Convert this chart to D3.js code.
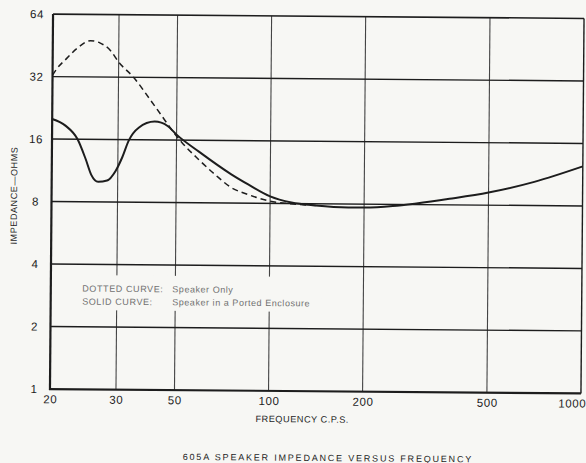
<!DOCTYPE html>
<html>
<head>
<meta charset="utf-8">
<script src="https://cdn.jsdelivr.net/npm/d3@7"></script>
<style>
  html, body { margin: 0; padding: 0; background: #f7f7f4; }
  svg { display: block; }
</style>
</head>
<body>
<svg id="chart" width="586" height="463"></svg>
<script>
// ---- data ----
const xTicks = [20, 30, 50, 100, 200, 500, 1000];
const xTickLabels = ["20", "30", "50", "100", "200", "500", "1000"];
const yTicks = [1, 2, 4, 8, 16, 32, 64];
const yTickLabels = ["1", "2", "4", "8", "16", "32", "64"];

const solidFreq = [20, 21.7, 23.4, 24.6, 25.5, 26.6, 28.1, 29.6, 31.2, 32.9, 35.9, 41.3, 46.2, 50, 59, 75, 85, 100, 117, 140, 178, 200, 247, 294, 375, 500, 700, 1000];
const solidOhms = [20.0, 18.6, 16.0, 12.9, 10.8, 10.0, 10.15, 11.3, 13.2, 15.8, 18.3, 19.6, 18.7, 17.0, 14.1, 11.0, 9.85, 8.65, 8.1, 7.85, 7.7, 7.7, 7.85, 8.1, 8.55, 9.2, 10.4, 12.4];

const dottedFreq = [20, 20.5, 21.8, 23.2, 25.2, 26.7, 28.5, 30, 34.2, 39.6, 43.3, 48.6, 52, 59, 66.8, 75, 85, 100, 114, 140];
const dottedOhms = [32.5, 34.8, 39.2, 43.8, 47.8, 46.7, 43.0, 37.8, 32.0, 25.0, 21.4, 17.5, 15.6, 12.9, 10.9, 9.5, 8.8, 8.2, 8.0, 7.85];

const legendLines = [["DOTTED CURVE:", "Speaker Only"], ["SOLID CURVE:", "Speaker in a Ported Enclosure"]];
const title = "605A SPEAKER IMPEDANCE VERSUS FREQUENCY";
const xTitle = "FREQUENCY C.P.S.";
const yTitle = "IMPEDANCE\u2014OHMS";

// ---- layout ----
const L = 51.5, R = 582.5, T = 16.25, B = 391.25;
const W = R - L;
const ink = "#1d1d1d";
const font = "'Liberation Sans', Arial, sans-serif";

const svg = d3.select("#chart");
const g = svg.append("g").attr("transform", "rotate(0.47, 317, 203.75)");

// paper grid: printed 30 line sits where the original chart paper puts it
const x = d3.scaleLog().domain([20, 30, 50, 1000]).range([L, L + 0.1243 * W, L + 0.2345 * W, R]);
const y = d3.scaleLog().base(2).domain([1, 64]).range([B, T]);

// vertical grid
g.append("g").selectAll("line").data(xTicks.slice(1, -1)).join("line")
  .attr("x1", d => x(d)).attr("x2", d => x(d))
  .attr("y1", T).attr("y2", B)
  .attr("stroke", "#444").attr("stroke-width", 1.1);

// white box behind legend (interrupts vertical rulings)
g.append("rect").attr("x", 72).attr("y", 277).attr("width", 250).attr("height", 35)
  .attr("fill", "#f7f7f4");

// horizontal grid
g.append("g").selectAll("line").data(yTicks.slice(1, -1)).join("line")
  .attr("x1", L).attr("x2", R)
  .attr("y1", d => y(d)).attr("y2", d => y(d))
  .attr("stroke", ink).attr("stroke-width", 1.4);

// frame
g.append("line").attr("x1", L).attr("x2", R).attr("y1", T).attr("y2", T).attr("stroke", ink).attr("stroke-width", 1.6);
g.append("line").attr("x1", R).attr("x2", R).attr("y1", T).attr("y2", B).attr("stroke", ink).attr("stroke-width", 1.4);
g.append("line").attr("x1", L).attr("x2", L).attr("y1", T).attr("y2", B + 1).attr("stroke", ink).attr("stroke-width", 2.2);
g.append("line").attr("x1", L - 1).attr("x2", R).attr("y1", B).attr("y2", B).attr("stroke", ink).attr("stroke-width", 2.2);

// axis labels via d3 axes (domain/ticks hidden, only text)
const xAxis = d3.axisBottom(x).tickValues(xTicks).tickFormat((d, i) => xTickLabels[i]).tickSize(0).tickPadding(6);
const xa = g.append("g").attr("transform", `translate(0,${B})`).call(xAxis);
xa.select(".domain").remove();
xa.selectAll("text").attr("font-family", font).attr("font-size", 11.5).attr("fill", ink).attr("letter-spacing", 0.6);
xa.selectAll(".tick").filter(d => d === 1000).select("text").attr("text-anchor", "end").attr("x", 5);

const yAxis = d3.axisLeft(y).tickValues(yTicks).tickFormat((d, i) => yTickLabels[i]).tickSize(0).tickPadding(11);
const ya = g.append("g").attr("transform", `translate(${L},0)`).call(yAxis);
ya.select(".domain").remove();
ya.selectAll("text").attr("font-family", font).attr("font-size", 11.5).attr("fill", ink)
  .attr("text-anchor", "middle").attr("dx", -5).attr("letter-spacing", 0.6);

// curves
const line = d3.line().x(d => x(d[0])).y(d => y(d[1])).curve(d3.curveMonotoneX);
g.append("path").datum(dottedFreq.map((f, i) => [f, dottedOhms[i]]))
  .attr("d", line).attr("fill", "none").attr("stroke", ink)
  .attr("stroke-width", 1.5).attr("stroke-dasharray", "6,4");
g.append("path").datum(solidFreq.map((f, i) => [f, solidOhms[i]]))
  .attr("d", line).attr("fill", "none").attr("stroke", ink)
  .attr("stroke-width", 2);

// legend
const lg = g.append("g").attr("font-family", font).attr("font-size", 9).attr("fill", "#707070");
legendLines.forEach((row, i) => {
  lg.append("text").attr("x", 83).attr("y", 293.5 + i * 13).attr("letter-spacing", 0.6).text(row[0]);
  lg.append("text").attr("x", 173).attr("y", 293.5 + i * 13).attr("letter-spacing", 0.55).text(row[1]);
});

// titles
g.append("text").attr("x", 304).attr("y", 422.5).attr("text-anchor", "middle")
  .attr("font-family", font).attr("font-size", 9.2).attr("letter-spacing", 0.5).attr("fill", ink).text(xTitle);
g.append("text").attr("transform", "translate(17,198) rotate(-90)").attr("text-anchor", "middle")
  .attr("font-family", font).attr("font-size", 9).attr("letter-spacing", 0.6).attr("fill", ink).text(yTitle);
g.append("text").attr("x", 330).attr("y", 461).attr("text-anchor", "middle")
  .attr("font-family", font).attr("font-size", 9).attr("letter-spacing", 1.8).attr("fill", ink).text(title);
</script>
</body>
</html>
